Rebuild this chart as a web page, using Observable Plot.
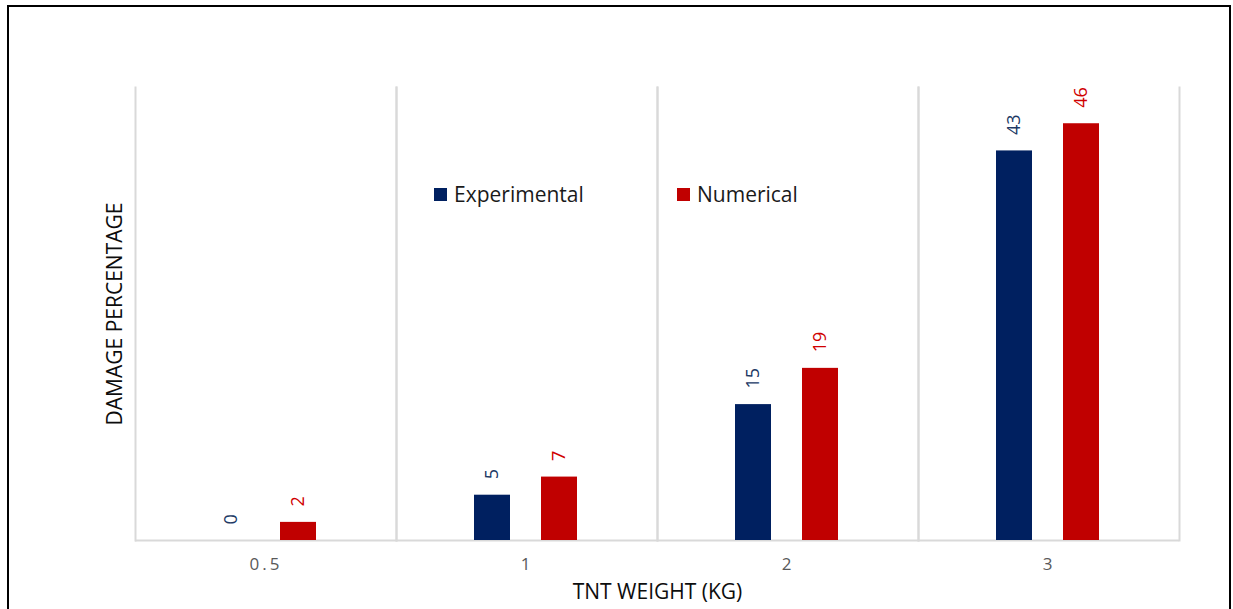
<!DOCTYPE html>
<html>
<head>
<meta charset="utf-8">
<script src="https://cdn.jsdelivr.net/npm/d3@7"></script>
<script src="https://cdn.jsdelivr.net/npm/@observablehq/plot@0.6"></script>
<style>
  html, body { margin: 0; padding: 0; background: #fff; }
  #wrap { position: relative; width: 1233px; height: 609px; overflow: hidden; font-family: "Open Sans", sans-serif; }
  #border { position: absolute; left: 7px; top: 5px; width: 1224px; height: 700px; border: 2px solid #000; box-sizing: border-box; pointer-events: none; }
  #legend { position: absolute; top: 181px; left: 0; font-size: 21px; color: #1a1a1a; }
  .item { position: absolute; display: flex; align-items: center; white-space: nowrap; height: 26px; }
  .sw { width: 13px; height: 13px; margin-right: 7px; }
  .fxticks text { letter-spacing: 3px; }
</style>
</head>
<body>
<div id="wrap">
  <div id="chart"></div>
  <div id="legend"></div>
  <div id="border"></div>
</div>
<script>
// TNT weight categories (kg) and damage percentages per method
const categories = ["0.5", "1", "2", "3"];
const series = ["Experimental", "Numerical"];
const experimental = [0, 5, 15, 43];
const numerical = [2, 7, 19, 46];

const barColors = ["#002060", "#C00000"];
const labelColors = ["#203864", "#D00000"];

const rows = categories.flatMap((c, i) => [
  {cat: c, series: series[0], value: experimental[i]},
  {cat: c, series: series[1], value: numerical[i]}
]);

const labelColor = (s) => labelColors[series.indexOf(s)];
const grid = "#d9d9d9";

const chart = Plot.plot({
  width: 1233,
  height: 609,
  marginLeft: 133,
  marginRight: 53,
  marginTop: 87,
  marginBottom: 69,
  style: {fontFamily: "'Open Sans', sans-serif", background: "transparent"},
  fx: {domain: categories, padding: 0, label: null},
  x: {domain: series, paddingInner: 0.47, paddingOuter: 1.16, axis: null},
  y: {domain: [0, 50], axis: null},
  color: {domain: series, range: barColors},
  marks: [
    Plot.frame({anchor: "left", stroke: grid, strokeWidth: 2}),
    Plot.frame({anchor: "right", stroke: grid, strokeWidth: 2}),
    Plot.ruleY([0], {stroke: grid, strokeWidth: 2}),
    Plot.barY(rows, {fx: "cat", x: "series", y: "value", fill: "series", insetLeft: -1, insetRight: 1}),
    Plot.text(rows, {
      fx: "cat", x: "series", y: "value",
      text: (d) => String(d.value),
      rotate: -90, textAnchor: "start", lineAnchor: "middle",
      dx: -1, dy: -16, fontSize: 18,
      fill: (d) => labelColor(d.series)
    }),
    Plot.axisFx({
      anchor: "bottom", tickSize: 0, tickPadding: 17, fontSize: 17,
      color: "#595959", label: null, className: "fxticks",
      tickFormat: (d) => d
    }),
    Plot.axisFx({
      anchor: "bottom", ticks: [], tickSize: 0,
      label: "TNT WEIGHT (KG)", labelAnchor: "center", labelOffset: 58,
      fontSize: 21, color: "#0d0d0d"
    }),
    Plot.axisY({
      anchor: "left", ticks: [], tickSize: 0,
      label: "DAMAGE PERCENTAGE", labelAnchor: "center", labelArrow: false, labelOffset: 28,
      fontSize: 21, color: "#0d0d0d"
    })
  ]
});
document.getElementById("chart").appendChild(chart);

// Legend placed inside the plot area
const legendPos = [434, 677];
const legend = d3.select("#legend");
series.forEach((s, i) => {
  const item = legend.append("div").attr("class", "item").style("left", legendPos[i] + "px");
  item.append("div").attr("class", "sw").style("background", barColors[i]);
  item.append("span").text(s);
});
</script>
</body>
</html>
